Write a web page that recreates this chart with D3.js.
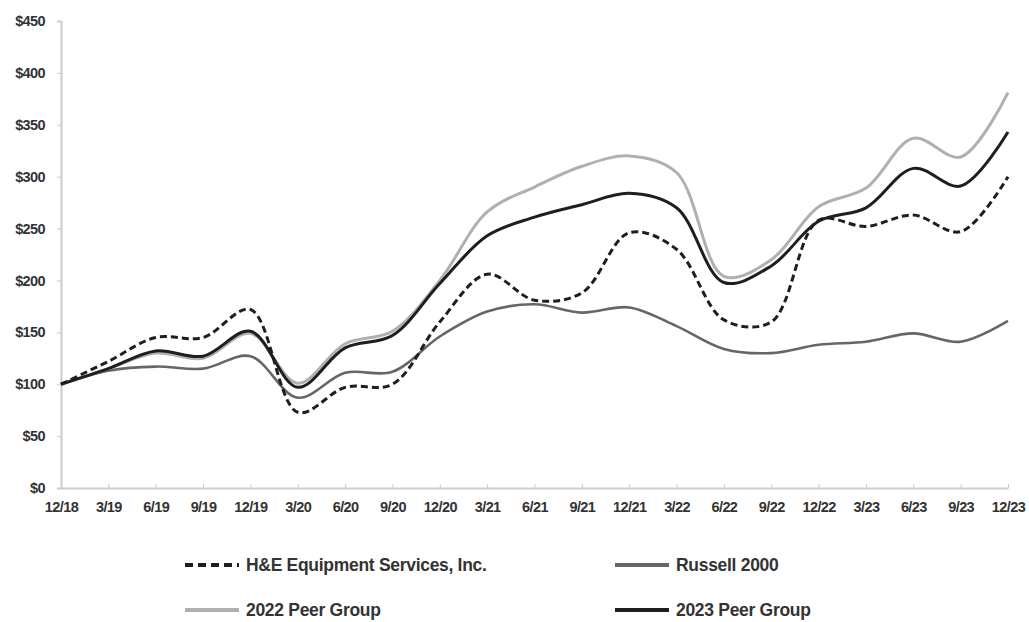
<!DOCTYPE html>
<html>
<head>
<meta charset="utf-8">
<script src="https://cdn.jsdelivr.net/npm/d3@7"></script>
<style>
  body { margin: 0; background: #fff; }
  svg text { font-family: "Liberation Sans", Arial, sans-serif; font-weight: bold; fill: #333; }
</style>
</head>
<body>
<div id="chart"></div>
<script>
(function(d3) {
  'use strict';
  // quarter labels
  var quarters = ['12/18','3/19','6/19','9/19','12/19','3/20','6/20','9/20','12/20','3/21','6/21',
                  '9/21','12/21','3/22','6/22','9/22','12/22','3/23','6/23','9/23','12/23'];
  var yTicks = [0, 50, 100, 150, 200, 250, 300, 350, 400, 450];

  // series values
  var heValues      = [100,122,145,145,172, 73, 97,100,160,206,181,188,246,230,162,160,258,252,263,247,300];
  var russellValues = [100,113,117,115,127, 87,111,112,146,170,177,169,174,156,134,130,138,141,149,141,161];
  var peer2022      = [100,115,130,125,149,101,139,151,200,266,290,310,320,304,204,220,271,289,337,319,381];
  var peer2023      = [100,115,132,127,151, 97,135,147,197,243,261,273,284,270,198,214,257,270,308,291,343];

  var series = [
    {name: 'Russell 2000', values: russellValues, color: '#666', width: 2.6, dash: null},
    {name: '2022 Peer Group', values: peer2022, color: '#b0b0b0', width: 3, dash: null},
    {name: '2023 Peer Group', values: peer2023, color: '#1e1e1e', width: 3, dash: null},
    {name: 'H&E Equipment Services, Inc.', values: heValues, color: '#1e1e1e', width: 3, dash: '7,4'}
  ];

  var margin = {top: 21, left: 61};
  var width = 947;
  var height = 467;

  var svg = d3.select('#chart').append('svg')
    .attr('width', 1029)
    .attr('height', 622);

  var g = svg.append('g')
    .attr('transform', 'translate(' + margin.left + ',' + margin.top + ')');

  var x = d3.scalePoint()
    .domain(quarters)
    .range([0, width]);

  var y = d3.scaleLinear()
    .domain([0, 450])
    .range([height, 0]);

  //Y axis
  var yAxis = g.append('g')
    .call(d3.axisLeft(y).tickValues(yTicks).tickSize(4).tickPadding(12).tickFormat(function(d){ return '$' + d; }));
  yAxis.select('.domain').attr('stroke', '#ccc').attr('stroke-width', 2);
  yAxis.selectAll('line').attr('stroke', '#ccc');
  yAxis.selectAll('text').style('font-size', '14.5px').attr('letter-spacing', '-0.6');

  //X axis, small ticks pointing up
  var xAxis = g.append('g')
    .attr('transform', 'translate(0,' + height + ')')
    .call(d3.axisBottom(x).tickSizeInner(-4).tickSizeOuter(0).tickPadding(14));
  xAxis.select('.domain').attr('stroke', '#ccc').attr('stroke-width', 2);
  xAxis.selectAll('line').attr('stroke', '#ccc');
  xAxis.selectAll('text').style('font-size', '14.5px').attr('letter-spacing', '-0.6');

  var line = d3.line()
    .x(function(d, i){ return x(quarters[i]); })
    .y(function(d){ return y(d); })
    .curve(d3.curveCatmullRom.alpha(0.5));

  g.selectAll('.series')
    .data(series)
    .enter().append('path')
    .attr('class', 'series')
    .attr('fill', 'none')
    .attr('d', function(d){ return line(d.values); })
    .attr('stroke', function(d){ return d.color; })
    .attr('stroke-width', function(d){ return d.width; })
    .attr('stroke-dasharray', function(d){ return d.dash; })
    .attr('stroke-linejoin', 'round');

  //Legend
  var legendItems = [
    {s: series[3], x: 185, y: 565},
    {s: series[0], x: 615, y: 565},
    {s: series[1], x: 185, y: 610},
    {s: series[2], x: 615, y: 610}
  ];
  var legend = svg.selectAll('.legend')
    .data(legendItems)
    .enter().append('g')
    .attr('class', 'legend')
    .attr('transform', function(d){ return 'translate(' + d.x + ',' + d.y + ')'; });
  legend.append('line')
    .attr('x1', 0).attr('x2', 54)
    .attr('stroke', function(d){ return d.s.color; })
    .attr('stroke-width', 4)
    .attr('stroke-dasharray', function(d){ return d.s.dash ? '8,5' : null; });
  legend.append('text')
    .attr('x', 61)
    .attr('dy', '0.35em')
    .style('font-size', '17.5px')
    .attr('letter-spacing', '-0.3')
    .text(function(d){ return d.s.name; });
})(window.d3);
</script>
</body>
</html>
